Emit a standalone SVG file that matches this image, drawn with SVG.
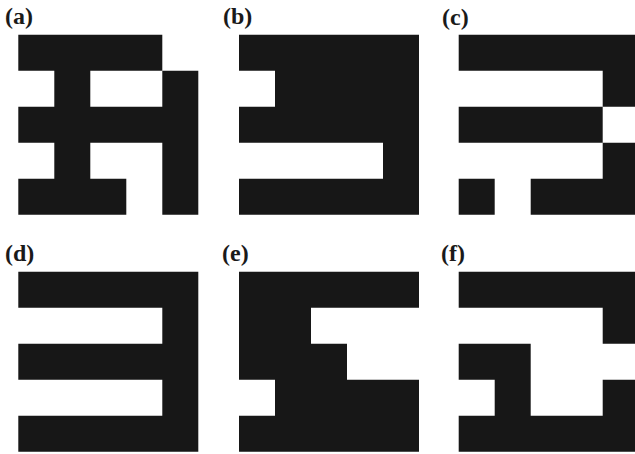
<svg xmlns="http://www.w3.org/2000/svg" width="635" height="454" viewBox="0 0 635 454">
<style>
.lbl{font-family:"Liberation Serif","Times New Roman",serif;font-weight:bold;font-size:24px;fill:#1a1a1a}
.px{fill:#171717}
</style>
<rect width="635" height="454" fill="#ffffff"/>
<g id="panel-a">
<text class="lbl" x="5" y="24">(a)</text>
<path class="px" transform="translate(18.3,34.7)" d="M0 0h144v36h-144z M36 36h36v36h-36z M144 36h36v36h-36z M0 72h180v36h-180z M36 108h36v36h-36z M144 108h36v36h-36z M0 144h108v36h-108z M144 144h36v36h-36z"/>
</g>
<g id="panel-b">
<text class="lbl" x="223" y="24">(b)</text>
<path class="px" transform="translate(239,34.7)" d="M0 0h180v36h-180z M36 36h144v36h-144z M0 72h180v36h-180z M144 108h36v36h-36z M0 144h180v36h-180z"/>
</g>
<g id="panel-c">
<text class="lbl" x="442" y="25">(c)</text>
<path class="px" transform="translate(458.7,34.7)" d="M0 0h180v36h-180z M144 36h36v36h-36z M0 72h144v36h-144z M144 108h36v36h-36z M0 144h36v36h-36z M72 144h108v36h-108z"/>
</g>
<g id="panel-d">
<text class="lbl" x="5" y="261">(d)</text>
<path class="px" transform="translate(18.3,271.7)" d="M0 0h180v36h-180z M144 36h36v36h-36z M0 72h180v36h-180z M144 108h36v36h-36z M0 144h180v36h-180z"/>
</g>
<g id="panel-e">
<text class="lbl" x="222" y="261">(e)</text>
<path class="px" transform="translate(239,271.7)" d="M0 0h180v36h-180z M0 36h72v36h-72z M0 72h108v36h-108z M36 108h144v36h-144z M0 144h180v36h-180z"/>
</g>
<g id="panel-f">
<text class="lbl" x="441" y="261">(f)</text>
<path class="px" transform="translate(458.7,271.7)" d="M0 0h180v36h-180z M144 36h36v36h-36z M0 72h72v36h-72z M36 108h36v36h-36z M144 108h36v36h-36z M0 144h180v36h-180z"/>
</g>
</svg>
